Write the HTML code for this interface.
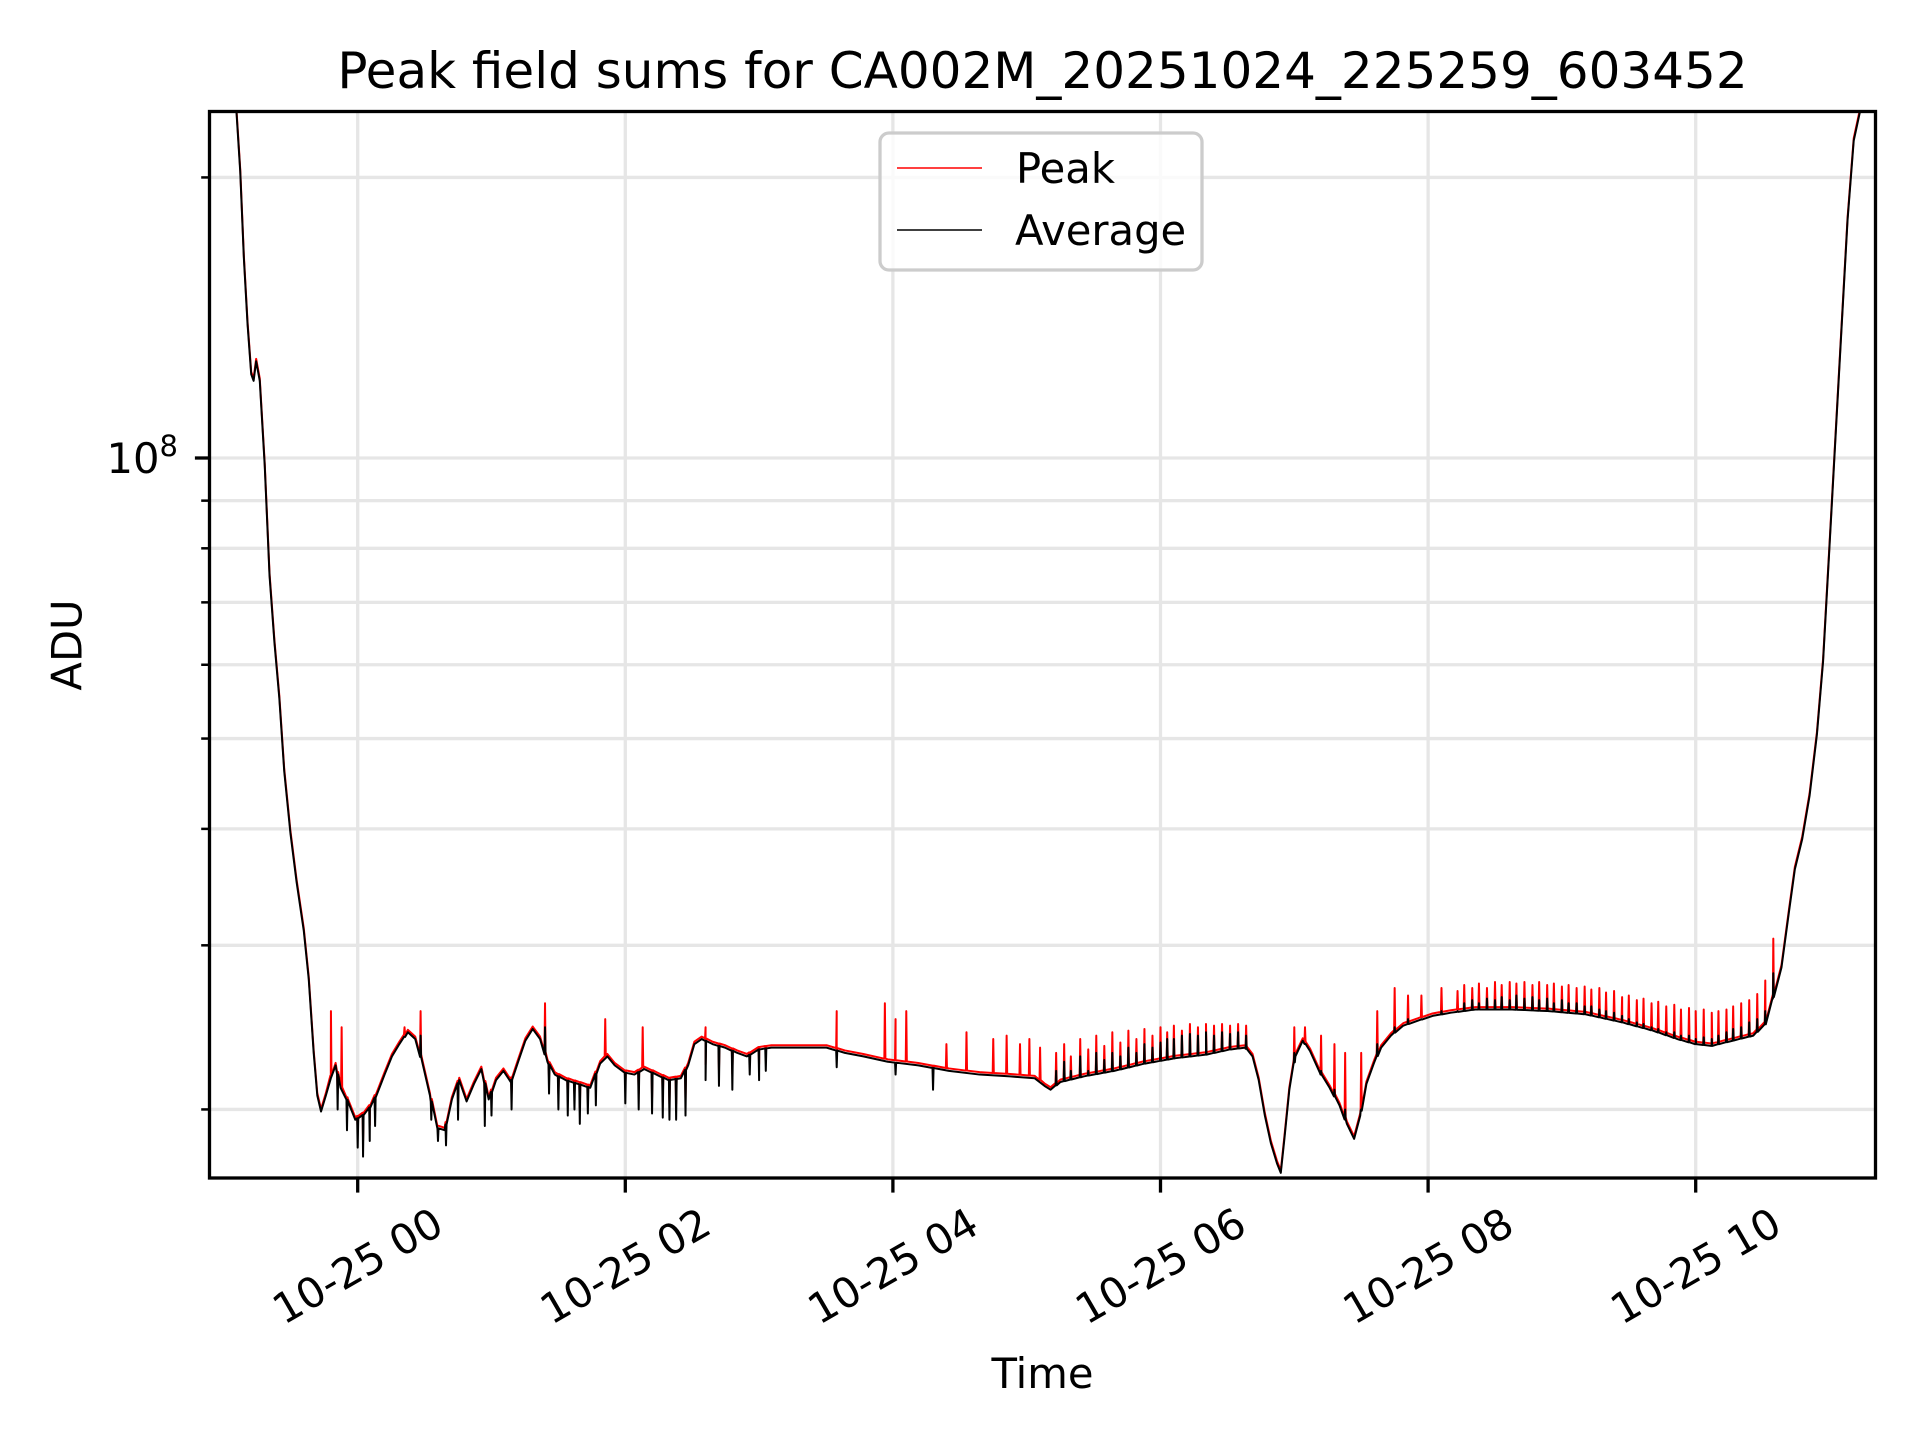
<!DOCTYPE html>
<html><head><meta charset="utf-8"><style>
html,body{margin:0;padding:0;background:#fff;}
svg{display:block;font-family:"DejaVu Sans","Liberation Sans",sans-serif;}
</style></head><body>
<svg id="chart" width="1920" height="1440" viewBox="0 0 1920 1440" xmlns="http://www.w3.org/2000/svg">
<defs><clipPath id="plotclip"><rect x="209.5" y="111.5" width="1666" height="1066.5"/></clipPath></defs>
<rect x="0" y="0" width="1920" height="1440" fill="#fff"/>
<text x="1042.5" y="88" font-size="50" text-anchor="middle">Peak field sums for CA002M_20251024_225259_603452</text>
<g id="grid"></g>
<g id="series" clip-path="url(#plotclip)"></g>
<rect x="209.5" y="111.5" width="1666" height="1066.5" fill="none" stroke="#000" stroke-width="3.3"/>
<g id="axes"></g>
<text x="1042.5" y="1388" font-size="41.7" text-anchor="middle">Time</text>
<text x="0" y="0" font-size="41.7" text-anchor="middle" dominant-baseline="central" transform="translate(67,645) rotate(-90)">ADU</text>
<g>
<rect x="880" y="133" width="322" height="137" rx="9" ry="9" fill="#fff" fill-opacity="0.8" stroke="#cccccc" stroke-width="3.3"/>
<line x1="897" y1="168" x2="982" y2="168" stroke="#ff0000" stroke-width="1.6"/>
<text x="1016" y="183" font-size="41.7">Peak</text>
<line x1="897" y1="230" x2="982" y2="230" stroke="#000" stroke-width="1.6"/>
<text x="1015" y="245" font-size="41.7">Average</text>
</g>
</svg>
<script>
// hours relative to 10-25 00:00
const avgTimes = [-1.107,-0.906,-0.878,-0.851,-0.823,-0.796,-0.778,-0.759,-0.732,-0.695,-0.659,-0.622,-0.586,-0.549,-0.503,-0.457,-0.403,-0.366,-0.329,-0.302,-0.274,-0.238,-0.201,-0.165,-0.128,-0.073,-0.018,0.037,0.091,0.146,0.201,0.256,0.311,0.375,0.430,0.485,0.540,0.595,0.650,0.704,0.759,0.814,0.869,0.924,0.979,1.034,1.089,1.144,1.199,1.253,1.308,1.363,1.418,1.473,1.555,1.647,1.738,1.812,1.866,1.921,1.995,2.068,2.141,2.232,2.324,2.415,2.470,2.516,2.571,2.653,2.745,2.836,2.909,3.001,3.092,3.275,3.504,3.641,3.779,3.962,4.190,4.419,4.648,4.877,5.060,5.133,5.178,5.252,5.425,5.654,5.883,6.112,6.340,6.523,6.633,6.688,6.734,6.780,6.825,6.871,6.899,6.926,6.963,7.008,7.063,7.118,7.191,7.264,7.338,7.393,7.447,7.493,7.539,7.594,7.649,7.722,7.814,7.923,8.033,8.170,8.353,8.628,8.902,9.177,9.451,9.680,9.863,10.000,10.119,10.275,10.430,10.522,10.577,10.641,10.696,10.741,10.796,10.851,10.906,10.952,10.998,11.043,11.089,11.135,11.181,11.227,11.336];
// average ADU in units of 1e7
const avgValues = [30,23.5,20.3,16.4,13.9,12.3,12.1,12.7,12.1,9.82,7.48,6.33,5.53,4.61,3.96,3.51,3.11,2.76,2.30,2.07,1.99,2.07,2.16,2.23,2.11,2.04,1.95,1.97,2.01,2.08,2.18,2.28,2.35,2.42,2.38,2.24,2.07,1.91,1.90,2.05,2.15,2.04,2.13,2.21,2.05,2.15,2.20,2.14,2.25,2.37,2.44,2.38,2.25,2.18,2.15,2.13,2.11,2.24,2.28,2.23,2.19,2.18,2.21,2.18,2.15,2.16,2.23,2.35,2.38,2.35,2.33,2.30,2.28,2.32,2.33,2.33,2.33,2.30,2.28,2.25,2.23,2.20,2.18,2.17,2.16,2.12,2.10,2.14,2.17,2.20,2.24,2.27,2.29,2.32,2.33,2.28,2.15,1.97,1.84,1.75,1.71,1.86,2.10,2.28,2.37,2.31,2.19,2.11,2.02,1.93,1.86,1.97,2.13,2.24,2.33,2.40,2.46,2.49,2.52,2.54,2.56,2.56,2.55,2.53,2.48,2.43,2.38,2.35,2.34,2.37,2.40,2.47,2.63,2.84,3.25,3.62,3.90,4.34,5.05,6.05,7.94,10.4,13.7,18.0,21.9,23.5,30];
// downward dips of the average: [hour, value e7]
const dipTimes = [-0.15,-0.08,0.0,0.04,0.09,0.13,0.55,0.6,0.66,0.75,0.95,1.0,1.15,1.43,1.5,1.57,1.62,1.66,1.72,1.78,2.0,2.1,2.2,2.28,2.33,2.38,2.45,2.6,2.7,2.8,2.93,3.0,3.05,3.58,4.02,4.3];
const dipValues = [2.0,1.9,1.82,1.78,1.85,1.92,1.95,1.85,1.83,1.95,1.92,1.97,2.0,2.08,2.0,1.97,2.0,1.93,1.98,2.02,2.03,2.0,1.98,1.96,1.95,1.95,1.97,2.15,2.12,2.1,2.18,2.15,2.2,2.22,2.18,2.1];
// upward spikes: time, peak top (e7), average top (e7, 0 = none)
const spikeTimes = [-0.2,-0.12,0.35,0.47,1.4,1.85,2.13,2.6,3.58,3.94,4.02,4.1,4.4,4.55,4.75,4.85,4.95,5.02,5.1,5.22,5.28,5.33,5.4,5.46,5.52,5.58,5.64,5.7,5.76,5.82,5.88,5.94,6.0,6.05,6.1,6.16,6.22,6.28,6.34,6.4,6.46,6.52,6.58,6.64,7.0,7.08,7.2,7.3,7.38,7.5,7.62,7.75,7.85,7.95,8.1,8.22,8.27,8.33,8.38,8.44,8.5,8.55,8.61,8.66,8.72,8.78,8.83,8.89,8.94,9.0,9.05,9.11,9.17,9.22,9.28,9.33,9.39,9.45,9.5,9.56,9.61,9.67,9.72,9.78,9.84,9.89,9.95,10.0,10.06,10.12,10.17,10.23,10.28,10.34,10.4,10.46,10.52,10.58];
const spikePeak = [2.55,2.45,2.45,2.55,2.6,2.5,2.45,2.45,2.55,2.6,2.5,2.55,2.35,2.42,2.38,2.4,2.35,2.38,2.33,2.3,2.35,2.28,2.38,2.32,2.4,2.34,2.42,2.36,2.43,2.38,2.44,2.4,2.45,2.42,2.46,2.43,2.47,2.45,2.47,2.46,2.47,2.46,2.47,2.46,2.45,2.45,2.4,2.35,2.3,2.3,2.55,2.7,2.65,2.65,2.7,2.68,2.72,2.7,2.73,2.7,2.74,2.72,2.74,2.73,2.74,2.72,2.74,2.72,2.73,2.71,2.72,2.7,2.71,2.69,2.7,2.67,2.68,2.64,2.65,2.62,2.63,2.6,2.61,2.58,2.59,2.56,2.57,2.55,2.56,2.54,2.55,2.56,2.58,2.6,2.62,2.66,2.75,3.05];
const spikeAvg = [0,0,2.35,2.4,2.45,0,0,2.3,0,0,0,0,0,0,0,0,0,0,0,2.2,2.25,2.2,2.28,2.2,2.3,2.26,2.3,2.28,2.33,2.3,2.35,2.33,2.36,2.38,2.38,2.4,2.41,2.4,2.42,2.4,2.42,2.41,2.42,2.4,2.3,2.3,2.2,2.1,2.0,2.0,2.35,2.45,2.5,2.5,2.55,2.55,2.6,2.62,2.6,2.63,2.62,2.64,2.62,2.65,2.63,2.64,2.62,2.63,2.6,2.62,2.6,2.6,2.58,2.58,2.56,2.55,2.54,2.52,2.5,2.48,2.47,2.45,2.44,2.42,2.42,2.4,2.4,2.38,2.39,2.38,2.4,2.42,2.44,2.45,2.48,2.5,2.55,2.8];
const xTickHours = [0,2,4,6,8,10];
const xTickLabels = ["10-25 00","10-25 02","10-25 04","10-25 06","10-25 08","10-25 10"];
const yMinorTicks = [2e7,3e7,4e7,5e7,6e7,7e7,8e7,9e7,2e8];
const yMajorTicks = [1e8];

const NS = "http://www.w3.org/2000/svg";
const L = 209.5, R = 1875.5, T = 111.5, B = 1178;
function xS(h){ return 357.7 + h * 133.8; }
function yS(v){ return 458 - (Math.log10(v) - 8) * 932; }
function mk(tag, attrs, parent){
  const e = document.createElementNS(NS, tag);
  for (const k in attrs) e.setAttribute(k, attrs[k]);
  parent.appendChild(e);
  return e;
}
const grid = document.getElementById('grid');
const axes = document.getElementById('axes');
const series = document.getElementById('series');

xTickHours.forEach((h, i) => {
  const x = xS(h);
  const g = mk('line', {x1:x, y1:T, x2:x, y2:B, stroke:'#e6e6e6', 'stroke-width':3.3}, grid);
  
  
  const t = mk('line', {x1:x, y1:B, x2:x, y2:B+14.6, stroke:'#000', 'stroke-width':3.3}, axes);
  
  
  const lb = mk('text', {x:0, y:0, 'font-size':41.7, 'text-anchor':'middle', 'dominant-baseline':'central', transform:'translate(' + x + ',1266) rotate(-30)'}, axes);
  lb.textContent = xTickLabels[i];
  
  
});
yMinorTicks.concat(yMajorTicks).forEach(v => {
  const y = yS(v);
  const major = yMajorTicks.indexOf(v) >= 0;
  const g = mk('line', {x1:L, y1:y, x2:R, y2:y, stroke:'#e6e6e6', 'stroke-width':3.3}, grid);
  
  
  const t = mk('line', {x1:L - (major ? 14.6 : 8.3), y1:y, x2:L, y2:y, stroke:'#000', 'stroke-width': major ? 3.3 : 2.5}, axes);
  
  
});
yMajorTicks.forEach(v => {
  const y = yS(v);
  const lb = mk('text', {x:178, y:y + 15, 'font-size':41.7, 'text-anchor':'end'}, axes);
  
  
  const exp = Math.round(Math.log10(v));
  lb.innerHTML = '10<tspan font-size="29" dy="-17">' + exp + '</tspan>';
});

function baseAt(t){
  for (let i = 0; i < avgTimes.length - 1; i++){
    if (t >= avgTimes[i] && t <= avgTimes[i+1]){
      const f = (t - avgTimes[i]) / (avgTimes[i+1] - avgTimes[i]);
      return Math.pow(10, Math.log10(avgValues[i]) * (1-f) + Math.log10(avgValues[i+1]) * f);
    }
  }
  return avgValues[avgValues.length-1];
}
const eps = 0.004;
function buildPath(isPeak){
  const pts = [];
  const mult = isPeak ? 1.006 : 1.0;
  avgTimes.forEach((t, i) => pts.push([t, avgValues[i] * mult]));
  spikeTimes.forEach((t, i) => {
    const top = isPeak ? spikePeak[i] : spikeAvg[i];
    if (!top) return;
    const b = baseAt(t) * mult;
    pts.push([t - eps, b], [t, Math.max(top, b)], [t + eps, b]);
  });
  if (!isPeak){
    dipTimes.forEach((t, i) => {
      const b = baseAt(t);
      pts.push([t - eps, b], [t, dipValues[i]], [t + eps, b]);
    });
  } else {
    dipTimes.forEach((t, i) => {
      const b = baseAt(t) * mult;
      const d = Math.min(b, dipValues[i] * 1.04);
      pts.push([t - eps, b], [t, d], [t + eps, b]);
    });
  }
  pts.sort((a, b) => a[0] - b[0]);
  return pts.map((p, i) => (i ? 'L' : 'M') + xS(p[0]).toFixed(2) + ' ' + yS(p[1] * 1e7).toFixed(2)).join(' ');
}
const peakPath = mk('path', {d: buildPath(true), fill:'none', stroke:'#ff0000', 'stroke-width':2, 'stroke-linejoin':'round'}, series);


const avgPath = mk('path', {d: buildPath(false), fill:'none', stroke:'#000000', 'stroke-width':2, 'stroke-linejoin':'round'}, series);


</script>
</body></html>
